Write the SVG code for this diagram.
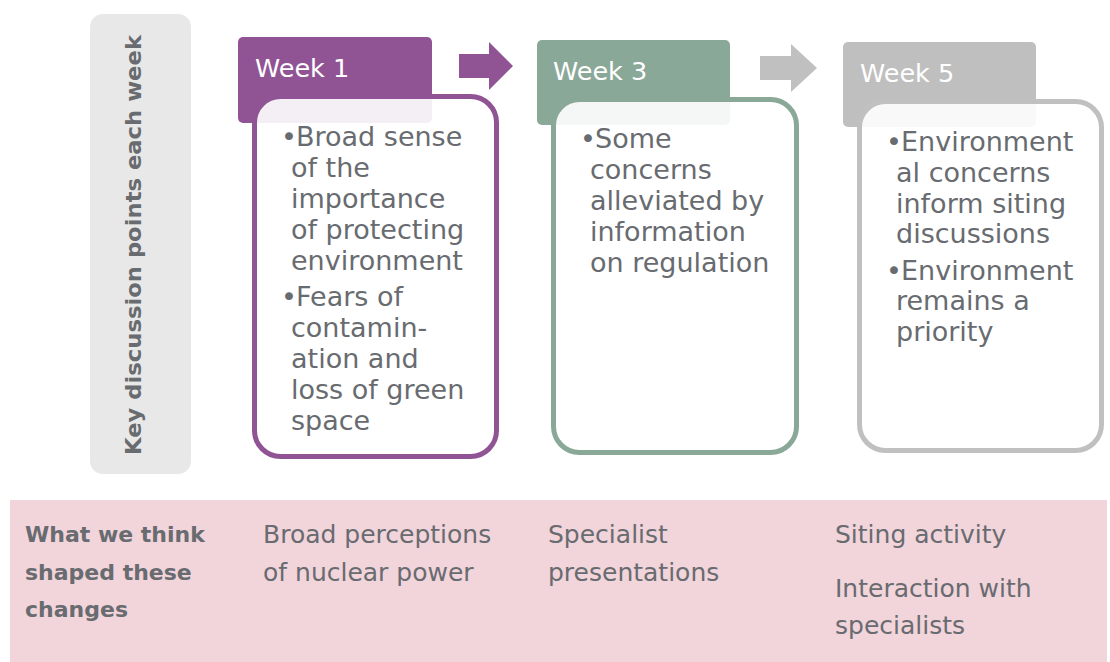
<svg xmlns="http://www.w3.org/2000/svg" width="1110" height="662" viewBox="0 0 1110 662">
<style>
.t{font-family:"DejaVu Sans","Liberation Sans",sans-serif;fill:#686b6f;font-size:27px}
.b{font-family:"DejaVu Sans","Liberation Sans",sans-serif;fill:#686b6f;font-size:25px}
.bold{font-family:"DejaVu Sans","Liberation Sans",sans-serif;fill:#686b6f;font-weight:bold;font-size:22px}
.wk{font-family:"DejaVu Sans","Liberation Sans",sans-serif;fill:#ffffff;font-size:25.5px}
.body{fill:#ffffff;fill-opacity:0.9;stroke-width:5}
</style>
<rect width="1110" height="662" fill="#ffffff"/>
<g id="side-label">
<rect x="90" y="14" width="101" height="460" rx="13" fill="#e8e8e8"/>
<text class="bold" transform="translate(141,245) rotate(-90)" text-anchor="middle" font-size="22.5" textLength="420" lengthAdjust="spacingAndGlyphs">Key discussion points each week</text>
</g>
<g id="week1">
<rect x="238" y="37" width="194" height="86" rx="5" fill="#905495"/>
<text class="wk" x="255" y="77">Week 1</text>
<rect class="body" x="254.5" y="96.5" width="242" height="360" rx="26" stroke="#905495"/>
<text class="t"><tspan x="281" y="146">•</tspan><tspan x="296" y="146">Broad sense</tspan><tspan x="291" y="177">of the</tspan><tspan x="291" y="208">importance</tspan><tspan x="291" y="239">of protecting</tspan><tspan x="291" y="270">environment</tspan><tspan x="281" y="306">•</tspan><tspan x="296" y="306">Fears of</tspan><tspan x="291" y="337">contamin-</tspan><tspan x="291" y="368">ation and</tspan><tspan x="291" y="399">loss of green</tspan><tspan x="291" y="430">space</tspan></text>
</g>
<g id="week3">
<rect x="537" y="40" width="193" height="85" rx="5" fill="#8aa898"/>
<text class="wk" x="553" y="80">Week 3</text>
<rect class="body" x="553.5" y="99.5" width="243" height="353" rx="26" stroke="#8aa898"/>
<text class="t"><tspan x="580" y="148">•</tspan><tspan x="595" y="148">Some</tspan><tspan x="590" y="179">concerns</tspan><tspan x="590" y="210">alleviated by</tspan><tspan x="590" y="241">information</tspan><tspan x="590" y="272">on regulation</tspan></text>
</g>
<g id="week5">
<rect x="843" y="42" width="193" height="85" rx="5" fill="#bfbfbf"/>
<text class="wk" x="860" y="82">Week 5</text>
<rect class="body" x="859.5" y="101.5" width="242" height="349" rx="26" stroke="#c0c0c0"/>
<text class="t"><tspan x="886" y="151">•</tspan><tspan x="901" y="151">Environment</tspan><tspan x="896" y="182">al concerns</tspan><tspan x="896" y="213">inform siting</tspan><tspan x="896" y="243">discussions</tspan><tspan x="886" y="280">•</tspan><tspan x="901" y="280">Environment</tspan><tspan x="896" y="310">remains a</tspan><tspan x="896" y="341">priority</tspan></text>
</g>
<g id="connectors">
<polygon points="459,54 489,54 489,42 513,66 489,90 489,78 459,78" fill="#905495"/>
<polygon points="760,56 791,56 791,44 817,68 791,92 791,80 760,80" fill="#c0c0c0"/>
</g>
<g id="influences">
<rect x="10" y="500" width="1097" height="162" fill="#f2d4db"/>
<text class="bold"><tspan x="25" y="542">What we think</tspan><tspan x="25" y="580">shaped these</tspan><tspan x="25" y="617">changes</tspan></text>
<text class="b"><tspan x="263" y="543">Broad perceptions</tspan><tspan x="263" y="581">of nuclear power</tspan></text>
<text class="b"><tspan x="548" y="543">Specialist</tspan><tspan x="548" y="581">presentations</tspan></text>
<text class="b"><tspan x="835" y="543">Siting activity</tspan><tspan x="835" y="597">Interaction with</tspan><tspan x="835" y="634">specialists</tspan></text>
</g>
</svg>
